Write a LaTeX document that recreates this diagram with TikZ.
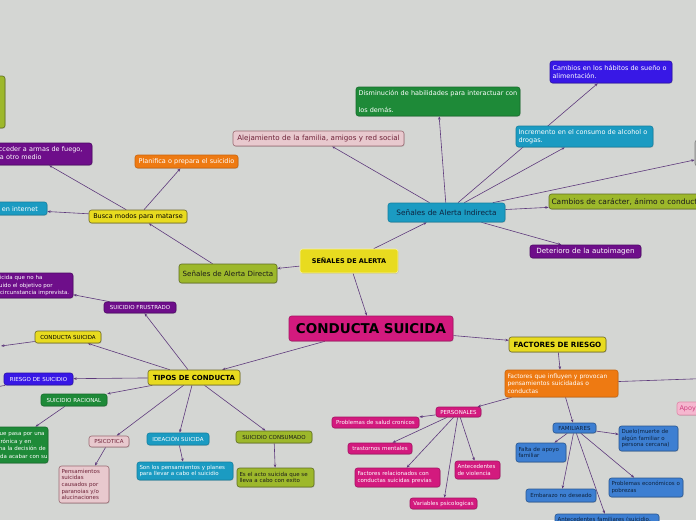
\documentclass[tikz,border=0pt]{standalone}
\usepackage{fontspec}
\setmainfont{DejaVu Sans}
\usetikzlibrary{arrows.meta,shadows,backgrounds}
\definecolor{bgc}{HTML}{D4D6D3}
\definecolor{lnc}{HTML}{5E3A7C}
\definecolor{olv}{HTML}{9DB82B}
\definecolor{olvD}{HTML}{5F6E22}
\definecolor{prp}{HTML}{6E0E8A}
\definecolor{prpD}{HTML}{4E0A66}
\definecolor{cyn}{HTML}{1B9BC2}
\definecolor{cynD}{HTML}{15809F}
\definecolor{ylw}{HTML}{E8DB1F}
\definecolor{ylwD}{HTML}{6E6A28}
\definecolor{orn}{HTML}{EE7A12}
\definecolor{ornD}{HTML}{C9650E}
\definecolor{grn}{HTML}{1E8A38}
\definecolor{grnD}{HTML}{176C2C}
\definecolor{pkl}{HTML}{E8C9CE}
\definecolor{pklD}{HTML}{9A6A72}
\definecolor{pklT}{HTML}{6E2238}
\definecolor{vio}{HTML}{3818E6}
\definecolor{vioD}{HTML}{2A12A8}
\definecolor{mag}{HTML}{D31A7E}
\definecolor{magD}{HTML}{A41362}
\definecolor{blu}{HTML}{3D7FD2}
\definecolor{bluD}{HTML}{2A5790}
\definecolor{bluT}{HTML}{0E2440}
\definecolor{apk}{HTML}{F5B7CF}
\definecolor{apkD}{HTML}{E08AAA}
\definecolor{apkT}{HTML}{D04080}
\definecolor{dk}{HTML}{1A1A1A}
\tikzset{
  nd/.style={rounded corners=2.5pt, draw, line width=0.6pt, inner xsep=2.5pt, inner ysep=0.5pt, align=center,
    drop shadow={shadow xshift=0.6pt,shadow yshift=-0.8pt,opacity=0.3}},
  cOlv/.style={fill=olv,draw=olvD,text=dk},
  cPrp/.style={fill=prp,draw=prpD,text=white},
  cCyn/.style={fill=cyn,draw=cynD,text=white},
  cYlw/.style={fill=ylw,draw=ylwD,text=black},
  cOrn/.style={fill=orn,draw=ornD,text=white},
  cGrn/.style={fill=grn,draw=grnD,text=white},
  cPkl/.style={fill=pkl,draw=pklD,text=pklT},
  cVio/.style={fill=vio,draw=vioD,text=white},
  cMag/.style={fill=mag,draw=magD,text=white},
  cBlu/.style={fill=blu,draw=bluD,text=bluT},
  cApk/.style={fill=apk,draw=apkD,text=apkT},
  fA/.style={font=\fontsize{5.5}{6.6}\selectfont},
  fB/.style={font=\fontsize{6.5}{7.8}\selectfont},
  fC/.style={font=\fontsize{7.1}{8.5}\selectfont},
  fD/.style={font=\fontsize{7.4}{8.9}\selectfont},
  ln/.style={draw=lnc, line width=0.6pt, -{Stealth[length=3.4pt,width=2.6pt]}},
  lnp/.style={draw=lnc, line width=0.6pt},
}
\newcommand{\bx}[7][]{%
  \pgfmathsetmacro\bxw{#5-(#3)}\pgfmathsetmacro\bxh{#6-(#4)}\pgfmathsetmacro\bxt{#5-(#3)-5}%
  \node[nd,#1,minimum width=\bxw pt,minimum height=\bxh pt,text width=\bxt pt] (#2) at ({(#3+#5)/2},{(#4+#6)/2}) {#7};}
\begin{document}
\begin{tikzpicture}[x=1pt,y=-1pt]
\useasboundingbox (0,0) rectangle (696,520);
% top left
\bx[cOlv]{lgreen}{-60}{76}{5}{128}{}
\bx[cPrp,fB,align=left]{armas}{-33}{143}{92}{165}{\mbox{Intenta acceder a armas de fuego,}\\\mbox{drogas o a otro medio}}
\bx[cCyn,fB,align=left]{internet}{-63}{202}{47}{215}{\mbox{Busca información en internet}}
\bx[cYlw,fB]{busca}{89}{210}{187}{223}{Busca modos para matarse}
\bx[cOrn,fB]{planifica}{135}{155}{238}{168}{Planifica o prepara el suicidio}
% top middle / right
\bx[cGrn,font=\fontsize{6.5}{17}\selectfont,align=left]{dismin}{356}{87}{520}{116}{Disminución de habilidades para interactuar con\\los demás.}
\bx[cPkl,fC]{alejam}{233}{131}{404}{146}{Alejamiento de la familia, amigos y red social}
\bx[cCyn,fD,text=bluT]{indirecta}{388}{203}{505}{222}{Señales de Alerta Indirecta}
\bx[cVio,fB,align=left]{habitos}{550}{61}{672}{83}{Cambios en los hábitos de sueño o\\alimentación.}
\bx[cCyn,fB,align=left]{increm}{516}{126}{653}{147}{Incremento en el consumo de alcohol o\\drogas.}
\bx[cOlv,font=\fontsize{7.5}{9}\selectfont,align=left]{caracter}{549}{194}{780}{209}{\mbox{Cambios de carácter, ánimo o conducta}}
\bx[fill=bgc!85!black,draw=gray]{offr}{695}{140}{760}{166}{}
\bx[cPrp,fC]{deterioro}{530}{245}{641}{258}{Deterioro de la autoimagen}
% centre
\bx[cYlw,draw=ylw!40!white,font=\fontsize{6.5}{7.5}\selectfont\bfseries]{senales}{300}{249}{398}{273}{SEÑALES DE ALERTA}
\bx[cOlv,fC]{directa}{179}{264}{277}{283}{Señales de Alerta Directa}
\bx[cMag,text=black,font=\fontsize{13.5}{15}\selectfont\bfseries]{conducta}{289}{316}{453}{341}{CONDUCTA SUICIDA}
% left middle
\bx[cPrp,fA]{frustrado}{104}{302}{176}{313}{SUICIDIO FRUSTRADO}
\bx[cPrp,font=\fontsize{5.5}{7.2}\selectfont,align=left]{frustdesc}{-23}{273}{73}{298}{\mbox{Acto suicida que no ha}\\\mbox{conseguido el objetivo por}\\\mbox{alguna circunstancia imprevista.}}
\bx[cYlw,fA]{csmall}{35}{331}{101}{343}{CONDUCTA SUICIDA}
\bx[cYlw,font=\fontsize{7}{8}\selectfont\bfseries]{tipos}{148}{370}{240}{385}{TIPOS DE CONDUCTA}
\bx[cVio,fA]{riesgo}{4}{373}{73}{385}{RIESGO DE SUICIDIO}
\bx[cGrn,fA]{racional}{41}{394}{107}{406}{SUICIDIO RACIONAL}
\bx[cGrn,font=\fontsize{5.5}{7.4}\selectfont,align=left]{racdesc}{-30}{427}{48}{463}{\mbox{Persona que pasa por una}\\\mbox{dolencia crónica y en}\\\mbox{razón, toma la decisión de}\\\mbox{forma lúcida acabar con su}}
\bx[cPkl,fA]{psicotica}{89}{436}{129}{447}{PSICOTICA}
\bx[cPkl,fA,align=left]{pensam}{59}{466}{109}{503}{Pensamientos\\suicidas\\causados por\\paranoias y/o\\alucinaciones}
\bx[cCyn,fA]{ideacion}{147}{433}{209}{445}{IDEACIÓN SUICIDA}
\bx[cCyn,fA,align=left]{sonlos}{137}{462}{233}{480}{Son los pensamientos y planes\\para llevar a cabo el suicidio}
\bx[cOlv,fA]{consumado}{236}{431}{312}{443}{SUICIDIO CONSUMADO}
\bx[cOlv,fA,align=left]{esacto}{237}{468}{314}{487}{Es el acto suicida que se\\lleva a cabo con exito}
% right lower
\bx[cYlw,font=\fontsize{7.2}{8.5}\selectfont\bfseries]{factores}{509}{337}{606}{352}{FACTORES DE RIESGO}
\bx[cOrn,font=\fontsize{6}{7.4}\selectfont,align=left]{influyen}{505}{370}{618}{397}{Factores que influyen y provocan\\pensamientos suicidadas o\\conductas}
\bx[cApk,fB,align=left]{apoyo}{677}{402}{740}{415}{\mbox{Apoyo social}}
\bx[cMag,fA]{personales}{436}{407}{481}{417}{PERSONALES}
\bx[cMag,fA]{problemas}{332}{417}{419}{428}{Problemas de salud cronicos}
\bx[cMag,fA]{trastornos}{348}{443}{412}{454}{trastornos mentales}
\bx[cMag,fA,align=left]{factrel}{355}{468}{440}{487}{Factores relacionados con\\conductas suicidas previas}
\bx[cMag,fA,align=left]{antec}{455}{461}{500}{479}{Antecedentes\\de violencia}
\bx[cMag,fA]{variables}{410}{498}{477}{509}{Variables psicologicas}
\bx[cBlu,fA]{familiares}{553}{423}{596}{433}{FAMILIARES}
\bx[cBlu,fA,align=left]{duelo}{619}{426}{678}{451}{Duelo(muerte de\\algún familiar o\\persona cercana)}
\bx[cBlu,fA,align=left]{falta}{516}{443}{566}{462}{Falta de apoyo\\familiar}
\bx[cBlu,fA]{embarazo}{526}{489}{596}{502}{Embarazo no deseado}
\bx[cBlu,fA,align=left]{economicos}{609}{478}{683}{497}{Problemas económicos o\\pobrezas}
\bx[cBlu,fA,align=left]{antfam}{555}{514}{659}{526}{\mbox{Antecedentes familiares (suicidio,}}
\coordinate (offL1) at (1,346);
\coordinate (offL2) at (-30,392);
\coordinate (offR2) at (720,378);
\begin{pgfonlayer}{background}
\fill[bgc] (0,0) rectangle (696,520);
\draw[ln] (busca) -- (armas);
\draw[ln] (busca) -- (internet);
\draw[ln] (busca) -- (planifica);
\draw[ln] (directa) -- (busca);
\draw[ln] (senales) -- (directa);
\draw[ln] (senales) -- (indirecta);
\draw[ln] (senales) -- (conducta);
\draw[ln] (indirecta) -- (alejam);
\draw[ln] (indirecta) -- (dismin);
\draw[ln] (indirecta) -- (habitos);
\draw[ln] (indirecta) -- (increm);
\draw[ln] (indirecta) -- (caracter);
\draw[ln] (indirecta) -- (offr);
\draw[ln] (indirecta) -- (deterioro);
\draw[ln] (conducta) -- (tipos);
\draw[ln] (conducta) -- (factores);
\draw[ln] (tipos) -- (frustrado);
\draw[ln] (frustrado) -- (frustdesc);
\draw[ln] (tipos) -- (csmall);
\draw[ln] (csmall) -- (offL1);
\draw[ln] (tipos) -- (riesgo);
\draw[lnp] (riesgo) -- (offL2);
\draw[ln] (tipos) -- (racional);
\draw[ln] (racional) -- (racdesc);
\draw[ln] (tipos) -- (psicotica);
\draw[ln] (psicotica) -- (pensam);
\draw[ln] (tipos) -- (ideacion);
\draw[ln] (ideacion) -- (sonlos);
\draw[ln] (tipos) -- (consumado);
\draw[ln] (consumado) -- (esacto);
\draw[ln] (factores) -- (influyen);
\draw[ln] (influyen) -- (personales);
\draw[ln] (influyen) -- (familiares);
\draw[ln] (influyen) -- (offR2);
\draw[ln] (personales) -- (problemas);
\draw[ln] (personales) -- (trastornos);
\draw[ln] (personales) -- (factrel);
\draw[ln] (personales) -- (variables);
\draw[ln] (personales) -- (antec);
\draw[ln] (familiares) -- (duelo);
\draw[ln] (familiares) -- (falta);
\draw[ln] (familiares) -- (embarazo);
\draw[ln] (familiares) -- (economicos);
\draw[ln] (familiares) -- (antfam);
\end{pgfonlayer}
\end{tikzpicture}
\end{document}
